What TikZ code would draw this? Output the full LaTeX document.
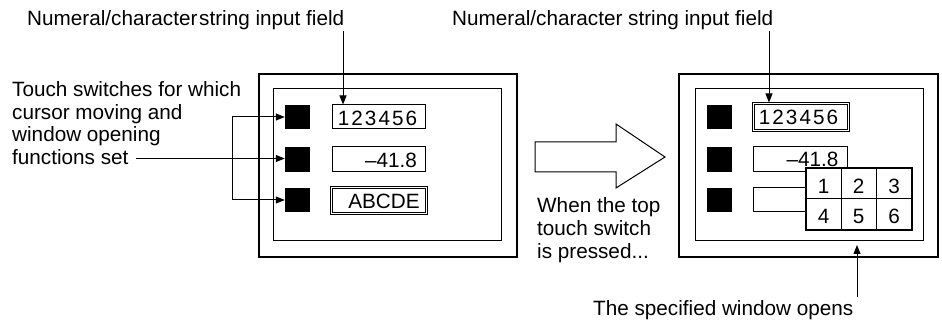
\documentclass[tikz,border=0pt]{standalone}
\usepackage{fontspec}
\setmainfont{Liberation Sans}
\newfontfamily\spacedfont[LetterSpace=10]{Liberation Sans}
\usetikzlibrary{arrows.meta}
\tikzset{
  lbl/.style={inner sep=0pt, anchor=base west, font=\fontsize{20.7}{22.7}\selectfont},
  fieldtxt/.style={inner sep=0pt, anchor=base, font=\fontsize{20.7}{22.7}\selectfont},
  thinbox/.style={draw, line width=1pt, inner sep=0pt, fill=white},
  sw/.style={fill=black, inner sep=0pt, minimum width=25pt, minimum height=24.5pt},
  frameout/.style={draw, line width=2pt, inner sep=0pt},
  framein/.style={draw, line width=1pt, inner sep=0pt},
  arr/.style={line width=1pt, -{Triangle[length=9pt,width=7pt]}},
}
\begin{document}
\begin{tikzpicture}[x=1pt,y=-1pt]
\useasboundingbox (0,0) rectangle (942,320);
% ---------- left screen ----------
\node[frameout, minimum width=258pt, minimum height=183pt] (lo) at (387.5,165.5) {};
\node[framein, minimum width=228pt, minimum height=152pt] (li) at (387,165) {};
\node[sw] (s1) at (297.5,117) {};
\node[sw] (s2) at (297.5,159.5) {};
\node[sw] (s3) at (297.5,200) {};
\node[thinbox, minimum width=93pt, minimum height=24pt] (f1) at (378.5,117) {};
\node[thinbox, minimum width=93pt, minimum height=25pt] (f2) at (378.5,159.5) {};
\node[thinbox, minimum width=97pt, minimum height=28pt] (f3o) at (378.5,201) {};
\node[thinbox, minimum width=93pt, minimum height=24pt] (f3) at (378.5,201) {};
\node[fieldtxt] (t1) at (377.5,126) {\spacedfont 123456};
\node[fieldtxt] (t2) at (391,168) {–41.8};
\node[fieldtxt] (t3) at (384,209) {ABCDE};
% labels left
\node[lbl] (top1) at (27,26) {Numeral/character\hspace{-4pt} string input field};
\node[lbl] (tl1) at (12,97) {Touch switches for which};
\node[lbl] (tl2) at (12,119.5) {cursor moving and};
\node[lbl] (tl3) at (12,142) {window opening};
\node[lbl] (tl4) at (12,165) {functions set};
\coordinate (c1) at (343,31);
\draw[arr] (c1) -- (c1 |- f1.north);
\coordinate (fs) at (136,158.5);
\draw[arr] (fs) -- (s2.west |- fs);
\coordinate (br) at (232,117);
\draw[arr] (br) -- (s1.west);
\draw[arr] (br) |- (s3.west);
% ---------- big arrow ----------
\draw[line width=1pt, fill=white] (535,142) -- (616,142) -- (616,124) -- (665,157) -- (616,188) -- (616,172) -- (535,172) -- cycle;
\node[lbl] (w1) at (537,213) {When the top};
\node[lbl] (w2) at (537,236) {touch switch};
\node[lbl] (w3) at (537,259) {is pressed...};
% ---------- right screen ----------
\node[frameout, minimum width=259pt, minimum height=183pt] (ro) at (808.5,165.5) {};
\node[framein, minimum width=228pt, minimum height=152pt] (ri) at (809,165) {};
\node[sw] (r1) at (719,117) {};
\node[sw] (r2) at (719,159.5) {};
\node[sw] (r3) at (719,200) {};
\node[thinbox, minimum width=97pt, minimum height=29pt] (g1o) at (800.5,117.5) {};
\node[thinbox, minimum width=93pt, minimum height=25pt] (g1) at (800.5,117.5) {};
\node[thinbox, minimum width=94pt, minimum height=25pt] (g2) at (800,159.5) {};
\node[thinbox, minimum width=94pt, minimum height=24pt] (g3) at (800,200) {};
\node[fieldtxt] (u1) at (798.5,125) {\spacedfont 123456};
\node[fieldtxt] (u2) at (812.5,167) {–41.8};
% keypad
\node[draw, line width=2pt, fill=white, inner sep=0pt, minimum width=106pt, minimum height=62pt] (kp) at (859,199) {};
\draw[line width=1pt] (841,168) -- (841,230) (876,168) -- (876,230) (806,199) -- (912,199);
\node[fieldtxt] (k1) at (823.5,194) {1};
\node[fieldtxt] (k2) at (858.5,194) {2};
\node[fieldtxt] (k3) at (894,194) {3};
\node[fieldtxt] (k4) at (823.5,224) {4};
\node[fieldtxt] (k5) at (858.5,224) {5};
\node[fieldtxt] (k6) at (894,224) {6};
% labels right
\node[lbl] (top2) at (452,26) {Numeral/character string input field};
\coordinate (c2) at (769,31);
\draw[arr] (c2) -- (c2 |- g1o.north);
\node[lbl] (bot) at (593,315) {The specified window opens};
\coordinate (c3) at (857,297);
\coordinate (c4) at (857,245);
\draw[arr] (c3) -- (c4);
\end{tikzpicture}
\end{document}
